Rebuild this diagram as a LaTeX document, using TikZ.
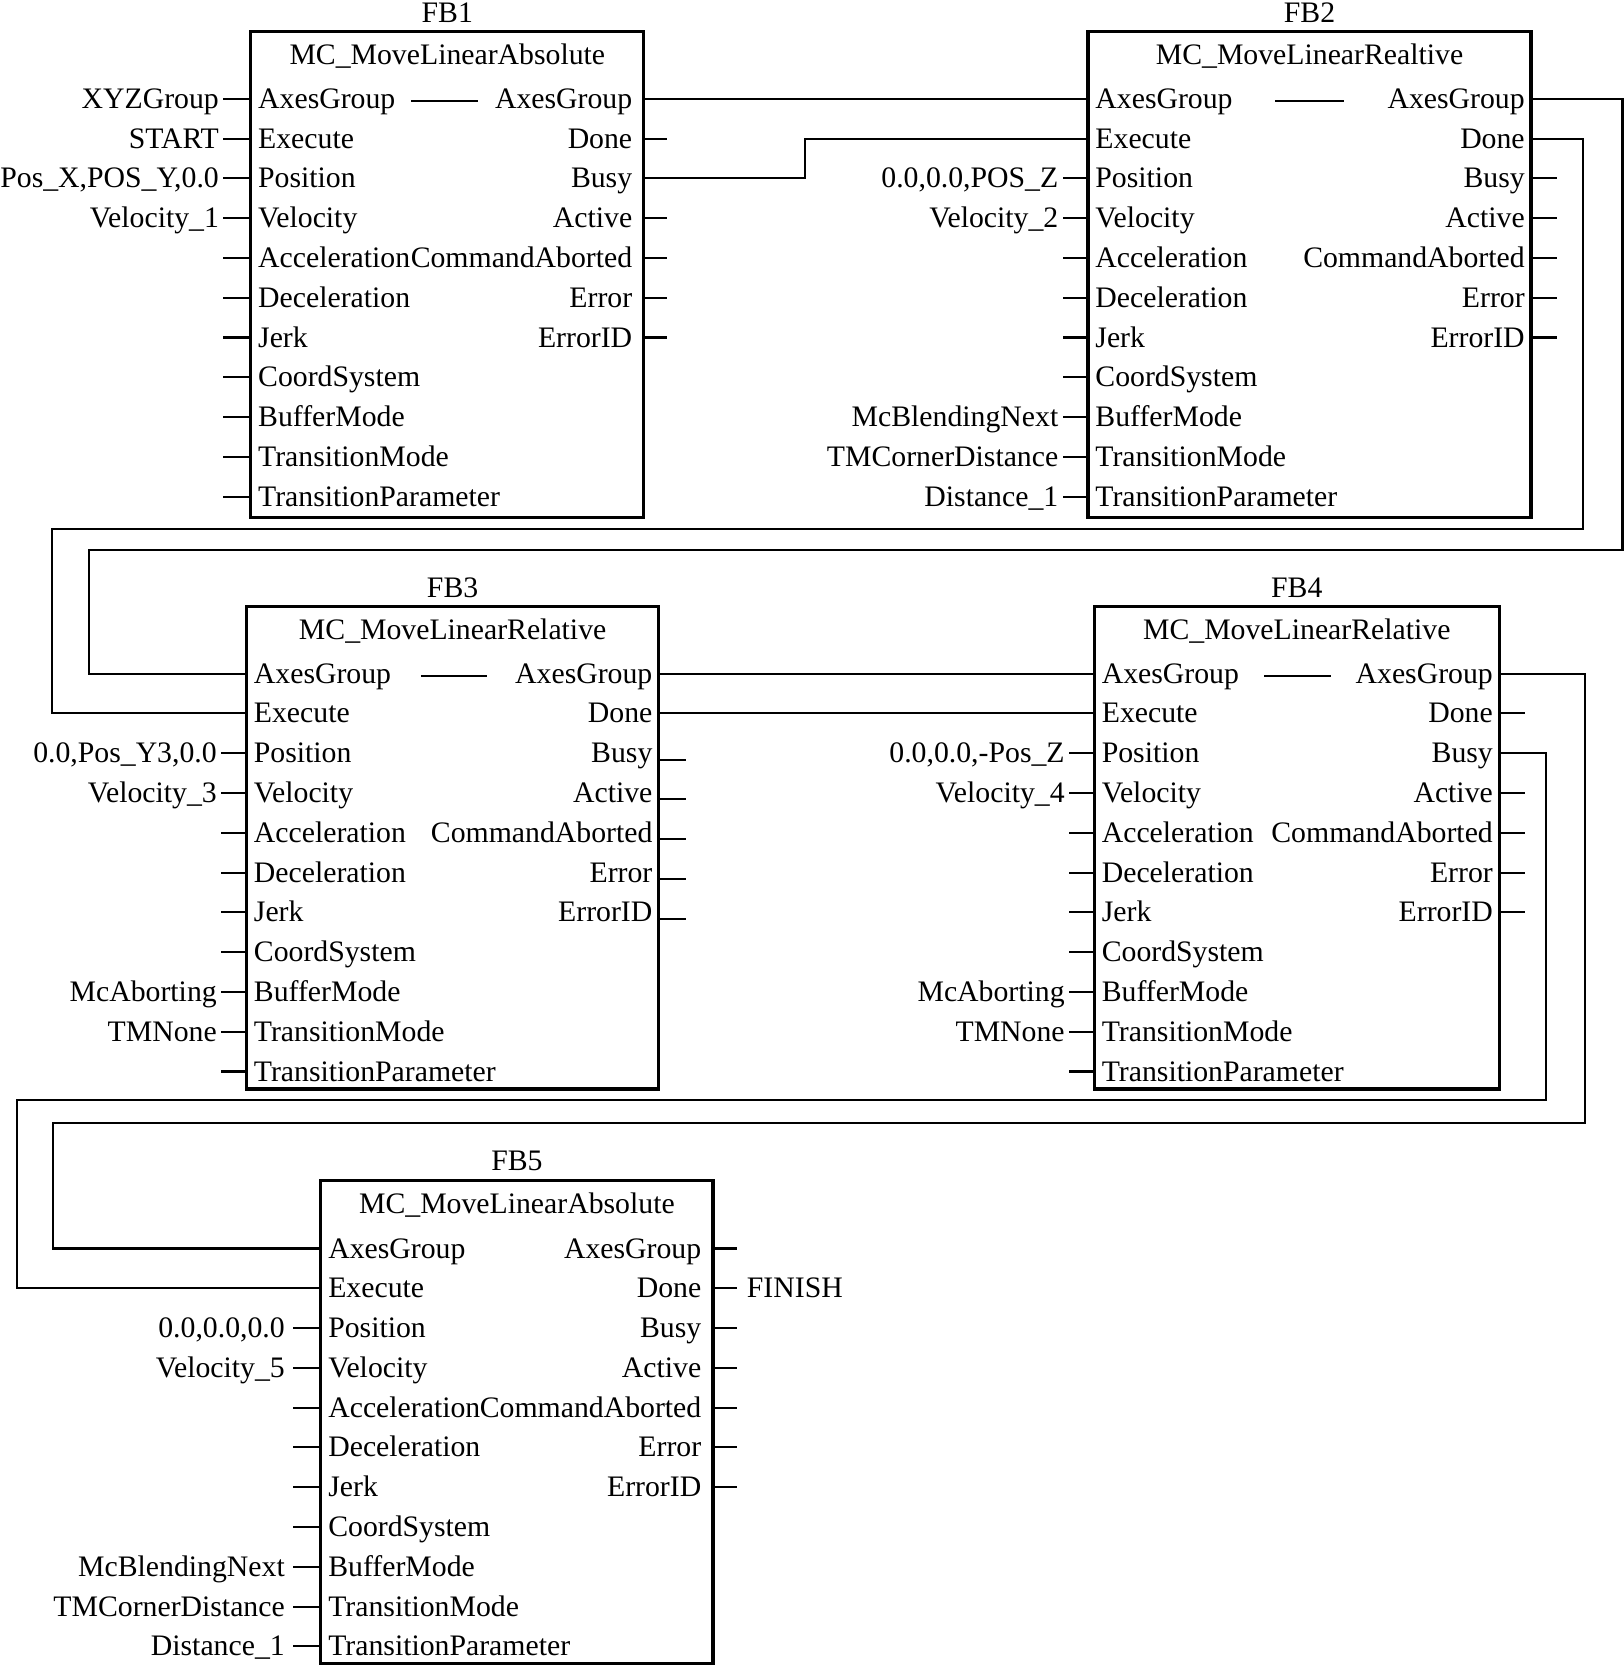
\documentclass[tikz,border=0pt]{standalone}
\usepackage{fontspec}
\setmainfont{Liberation Serif}
\tikzset{
  fbbox/.style={draw, line width=1.5pt, inner sep=0pt, outer sep=0pt},
  txt/.style={inner sep=0pt, outer sep=0pt, font=\fontsize{14}{16}\selectfont},
  wire/.style={line width=1pt},
  pinline/.style={line width=1pt},
}
% #1 id, #2 left, #3 right, #4 top, #5 bottom, #6 title, #7 heading, #8 first row y, #9 output inset
\newcommand\fbblock[9]{%
  \node[fbbox, minimum width={(#3-#2)*0.5pt}, minimum height={(#5-#4)*0.5pt}] (#1) at ({(#2+#3)/2},{(#4+#5)/2}) {};
  \node[txt, anchor=base] (#1-title) at ({(#2+#3)/2},{#4-9}) {#6};
  \node[txt, anchor=base] (#1-head) at ({(#2+#3)/2},{#4+31}) {#7};
  \foreach \n [count=\i from 0] in {AxesGroup,Execute,Position,Velocity,Acceleration,Deceleration,Jerk,CoordSystem,BufferMode,TransitionMode,TransitionParameter}{
    \node[txt, anchor=base west] (#1-in\i) at ({#2+7},{#8+\i*37.45+9}) {\n};
    \coordinate (#1-ip\i) at (#2,{#8+\i*37.45});
  }
  \foreach \n [count=\i from 0] in {AxesGroup,Done,Busy,Active,CommandAborted,Error,ErrorID}{
    \node[txt, anchor=base east] (#1-out\i) at ({#3-#9},{#8+\i*37.45+9}) {\n};
    \coordinate (#1-op\i) at (#3,{#8+\i*37.45});
  }
}
% input stub: #1 block, #2 index, #3 stub length, #4 gap, #5 label
\newcommand\inpin[5]{%
  \draw[pinline] (#1-ip#2) -- ++(-#3,0) coordinate (#1-is#2);
  \path (#1-is#2) ++(-#4,9) node[txt, anchor=base east] (#1-ext#2) {#5};
}
\begin{document}
\begin{tikzpicture}[x=0.5pt, y=-0.5pt]
\useasboundingbox (0,0) rectangle (1528,1568);

% ---------- blocks ----------
\fbblock{fb1}{236}{606}{30}{487}{FB1}{MC\_MoveLinearAbsolute}{93}{11}
\fbblock{fb2}{1024}{1441}{30}{487}{FB2}{MC\_MoveLinearRealtive}{93}{6}
\fbblock{fb3}{232}{620}{571}{1025}{FB3}{MC\_MoveLinearRelative}{634}{6}
\fbblock{fb4}{1030}{1411}{571}{1025}{FB4}{MC\_MoveLinearRelative}{634}{6}
\fbblock{fb5}{302}{671}{1111}{1566}{FB5}{MC\_MoveLinearAbsolute}{1175}{11}

% ---------- AxesGroup pass-through dashes ----------
\draw[pinline] (387,95) -- (450,95);
\draw[pinline] (1200,95) -- (1265,95);
\draw[pinline] (396,636) -- (458,636);
\draw[pinline] (1190,636) -- (1253,636);

% ---------- FB1 pins ----------
\inpin{fb1}{0}{26}{4}{XYZGroup}
\inpin{fb1}{1}{26}{4}{START}
\inpin{fb1}{2}{26}{4}{Pos\_X,POS\_Y,0.0}
\inpin{fb1}{3}{26}{4}{Velocity\_1}
\foreach \i in {4,...,10} {\inpin{fb1}{\i}{26}{4}{}}
\foreach \i in {1,3,4,5,6} {\draw[pinline] (fb1-op\i) -- ++(22,0);}

% ---------- FB2 pins ----------
\inpin{fb2}{2}{24}{4}{0.0,0.0,POS\_Z}
\inpin{fb2}{3}{24}{4}{Velocity\_2}
\foreach \i in {4,...,7} {\inpin{fb2}{\i}{24}{4}{}}
\inpin{fb2}{8}{24}{4}{McBlendingNext}
\inpin{fb2}{9}{24}{4}{TMCornerDistance}
\inpin{fb2}{10}{24}{4}{Distance\_1}
\foreach \i in {2,...,6} {\draw[pinline] (fb2-op\i) -- ++(24,0);}

% ---------- FB3 pins ----------
\inpin{fb3}{2}{24}{4}{0.0,Pos\_Y3,0.0}
\inpin{fb3}{3}{24}{4}{Velocity\_3}
\foreach \i in {4,...,7} {\inpin{fb3}{\i}{24}{4}{}}
\inpin{fb3}{8}{24}{4}{McAborting}
\inpin{fb3}{9}{24}{4}{TMNone}
\inpin{fb3}{10}{24}{4}{}
\foreach \i in {2,...,6} {\draw[pinline] ([yshift=-3pt]fb3-op\i) -- ++(26,0);}

% ---------- FB4 pins ----------
\inpin{fb4}{2}{24}{4}{0.0,0.0,-Pos\_Z}
\inpin{fb4}{3}{24}{4}{Velocity\_4}
\foreach \i in {4,...,7} {\inpin{fb4}{\i}{24}{4}{}}
\inpin{fb4}{8}{24}{4}{McAborting}
\inpin{fb4}{9}{24}{4}{TMNone}
\inpin{fb4}{10}{24}{4}{}
\foreach \i in {1,3,4,5,6} {\draw[pinline] (fb4-op\i) -- ++(24,0);}

% ---------- FB5 pins ----------
\inpin{fb5}{2}{26}{8}{0.0,0.0,0.0}
\inpin{fb5}{3}{26}{8}{Velocity\_5}
\foreach \i in {4,...,7} {\inpin{fb5}{\i}{26}{8}{}}
\inpin{fb5}{8}{26}{8}{McBlendingNext}
\inpin{fb5}{9}{26}{8}{TMCornerDistance}
\inpin{fb5}{10}{26}{8}{Distance\_1}
\foreach \i in {0,...,6} {\draw[pinline] (fb5-op\i) -- ++(23,0) coordinate (fb5-os\i);}
\path (fb5-os1) ++(9,9) node[txt, anchor=base west] (finish) {FINISH};

% ---------- routing coordinates ----------
\coordinate (k1) at (758,0);
\coordinate (r2) at (1527,518);
\coordinate (l2) at (84,518);
\coordinate (r1) at (1490,498);
\coordinate (l1) at (49,498);
\coordinate (r4) at (1492,1057);
\coordinate (l4) at (50,1057);
\coordinate (r3) at (1455,1035);
\coordinate (l3) at (16,1035);

% ---------- connectors ----------
\draw[wire] (fb1-op0) -- (fb2-ip0);
\draw[wire] (fb1-op2) -| (k1 |- fb2-ip1) -- (fb2-ip1);
\draw[wire] (fb2-op0) -| (r2) -- (l2) |- (fb3-ip0);
\draw[wire] (fb2-op1) -| (r1) -- (l1) |- (fb3-ip1);
\draw[wire] (fb3-op0) -- (fb4-ip0);
\draw[wire] (fb3-op1) -- (fb4-ip1);
\draw[wire] (fb4-op0) -| (r4) -- (l4) |- (fb5-ip0);
\draw[wire] (fb4-op2) -| (r3) -- (l3) |- (fb5-ip1);
\end{tikzpicture}
\end{document}
